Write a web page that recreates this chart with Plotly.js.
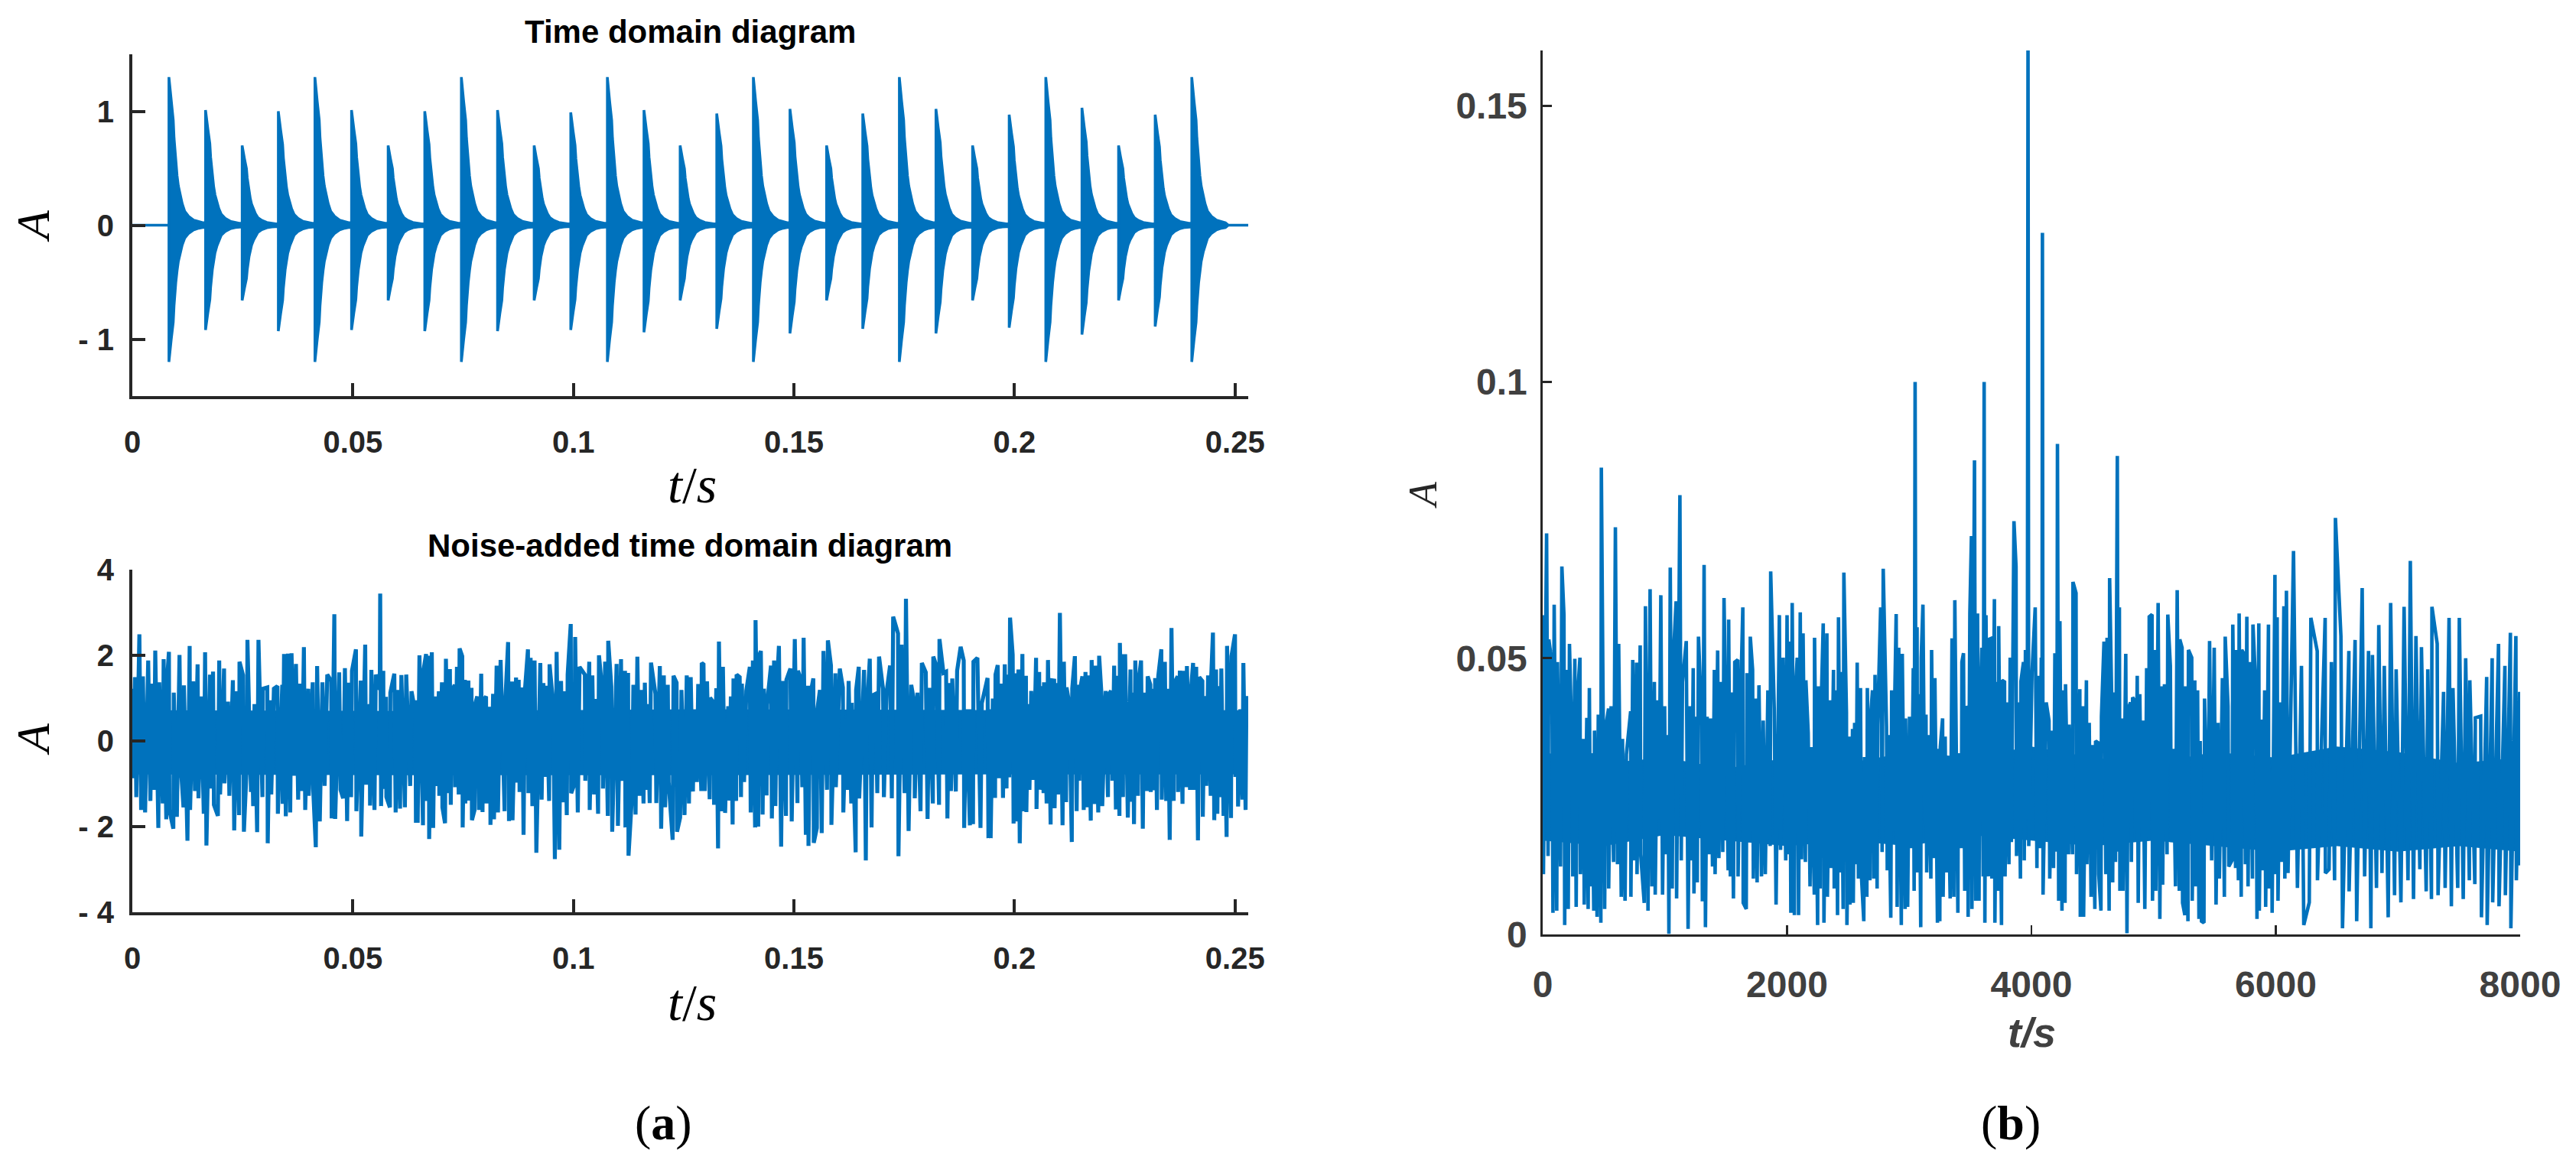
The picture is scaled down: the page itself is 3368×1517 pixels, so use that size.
<!DOCTYPE html>
<html><head><meta charset="utf-8">
<script src="https://cdn.plot.ly/plotly-3.0.1.min.js"></script>
<style>html,body{margin:0;padding:0;background:#fff;}#chart{width:3368px;height:1517px;}</style>
</head><body><div id="chart"></div>
<script>
// ---------------- DATA ----------------
// (a) top: periodic impulse bursts (time of each impulse, positive and negative peak)
const burstTimes = [0.0083,0.0166,0.0249,0.0331,0.0414,0.0497,0.0580,0.0663,0.0746,0.0828,0.0911,0.0994,0.1077,0.1160,0.1242,0.1325,0.1408,0.1491,0.1574,0.1656,0.1739,0.1822,0.1905,0.1988,0.2071,0.2153,0.2236,0.2319,0.2402];
const burstPosPeak = [1.30,1.01,0.70,1.00,1.30,1.01,0.70,1.00,1.30,1.01,0.70,0.99,1.30,1.01,0.70,0.98,1.30,1.02,0.70,0.98,1.30,1.02,0.70,0.97,1.30,1.03,0.70,0.97,1.30];
const burstNegPeak = [-1.20,-0.92,-0.66,-0.93,-1.20,-0.92,-0.66,-0.93,-1.20,-0.93,-0.66,-0.92,-1.20,-0.94,-0.66,-0.91,-1.20,-0.95,-0.66,-0.91,-1.20,-0.95,-0.66,-0.90,-1.20,-0.96,-0.66,-0.89,-1.20];
// envelope of one burst (time after impulse, fraction of the peak)
const decayOffset = [0,0.00052,0.00098,0.00116,0.00156,0.00185,0.00214,0.00260,0.00301,0.00358,0.00445,0.00561,0.00676,0.00763];
const decayRatio  = [1,0.837,0.709,0.590,0.419,0.333,0.265,0.196,0.145,0.094,0.060,0.034,0.022,0.017];
const signalSpan = [0, 0.2530];

// (a) bottom: noise-added signal, successive extremes [t, A]
const noisyExtremes = [
[0.0000,1.22],[0.0001,-0.87],[0.0006,1.49],[0.0009,-1.31],[0.0016,2.49],[0.0020,-1.61],[0.0024,1.51],[0.0029,-1.67],[0.0036,1.88],[0.0041,-1.40],
[0.0045,1.34],[0.0049,-1.14],[0.0052,2.11],[0.0059,-2.03],[0.0061,1.37],[0.0069,-1.46],[0.0071,1.91],[0.0077,-1.83],[0.0078,1.31],[0.0083,2.08],
[0.0084,-1.61],[0.0093,-2.05],[0.0094,1.13],[0.0101,-1.77],[0.0107,2.01],[0.0110,-0.60],[0.0116,-1.55],[0.0117,1.30],[0.0125,-2.33],[0.0130,2.22],
[0.0131,-1.61],[0.0138,1.39],[0.0142,-1.17],[0.0148,1.79],[0.0150,-1.34],[0.0156,1.04],[0.0162,-1.70],[0.0165,2.07],[0.0168,-2.44],[0.0176,1.55],
[0.0177,-1.11],[0.0183,1.62],[0.0185,-1.49],[0.0194,-1.75],[0.0197,1.88],[0.0199,-1.25],[0.0208,1.69],[0.0209,-0.99],[0.0217,0.92],[0.0220,-1.28],
[0.0228,1.42],[0.0231,-2.09],[0.0237,1.16],[0.0242,-1.73],[0.0243,1.85],[0.0251,1.54],[0.0253,-2.12],[0.0260,-0.45],[0.0261,2.36],[0.0269,-1.19],
[0.0270,0.68],[0.0274,-1.52],[0.0277,0.86],[0.0283,-2.13],[0.0286,2.36],[0.0295,-1.31],[0.0296,1.22],[0.0306,1.25],[0.0307,-2.39],[0.0312,0.95],
[0.0315,-1.25],[0.0321,1.22],[0.0329,1.28],[0.0330,-1.70],[0.0340,1.31],[0.0341,-1.47],[0.0344,2.03],[0.0348,-1.76],[0.0353,2.04],[0.0358,-1.67],
[0.0361,2.05],[0.0367,-0.81],[0.0371,1.80],[0.0376,-1.37],[0.0380,1.34],[0.0384,-1.17],[0.0389,2.19],[0.0392,-1.61],[0.0399,1.22],[0.0400,-1.28],
[0.0409,1.37],[0.0410,-1.11],[0.0416,-2.48],[0.0419,1.75],[0.0425,-1.88],[0.0431,1.37],[0.0436,-1.05],[0.0442,1.55],[0.0451,1.40],[0.0452,-1.81],
[0.0458,2.96],[0.0460,-1.82],[0.0469,1.60],[0.0472,-1.14],[0.0478,-1.34],[0.0482,1.70],[0.0487,-1.87],[0.0491,1.36],[0.0496,-1.31],[0.0498,1.64],
[0.0507,2.14],[0.0508,-1.64],[0.0518,1.41],[0.0519,-2.23],[0.0528,2.25],[0.0530,-1.02],[0.0538,0.86],[0.0539,-1.51],[0.0542,1.66],[0.0549,-1.61],
[0.0552,1.55],[0.0561,1.20],[0.0562,3.44],[0.0564,-1.52],[0.0569,1.64],[0.0570,-1.12],[0.0575,1.03],[0.0576,-1.31],[0.0584,-1.55],[0.0585,1.13],[0.0594,1.57],
[0.0597,-1.67],[0.0602,1.19],[0.0607,-1.58],[0.0610,1.54],[0.0618,-1.55],[0.0621,1.55],[0.0630,-1.05],[0.0633,1.16],[0.0642,0.65],[0.0643,-1.91],
[0.0644,0.95],[0.0647,-1.91],[0.0651,2.00],[0.0659,-1.97],[0.0660,1.64],[0.0666,2.03],[0.0668,-1.40],[0.0672,1.99],[0.0673,-2.29],[0.0679,2.07],
[0.0682,-2.03],[0.0686,1.04],[0.0688,-1.05],[0.0695,1.16],[0.0696,-1.28],[0.0702,1.37],[0.0703,-1.55],[0.0709,-1.92],[0.0711,1.92],[0.0716,-1.22],
[0.0720,1.68],[0.0722,-1.49],[0.0725,1.19],[0.0731,1.31],[0.0732,-1.08],[0.0736,1.73],[0.0740,-1.25],[0.0742,2.16],[0.0748,1.98],[0.0749,-2.02],
[0.0754,1.43],[0.0755,-1.46],[0.0762,1.41],[0.0763,-1.39],[0.0769,1.24],[0.0770,-1.85],[0.0776,-1.61],[0.0777,0.85],[0.0782,1.04],[0.0786,-1.61],
[0.0791,1.57],[0.0794,-1.66],[0.0796,0.95],[0.0802,1.04],[0.0803,-1.46],[0.0811,0.80],[0.0812,-1.96],[0.0818,1.10],[0.0820,-1.83],[0.0826,1.76],
[0.0829,-1.67],[0.0835,1.89],[0.0844,-1.64],[0.0845,0.79],[0.0852,2.31],[0.0854,-1.87],[0.0861,1.39],[0.0862,-1.85],[0.0870,1.48],[0.0871,-0.97],
[0.0876,1.43],[0.0878,-1.19],[0.0884,1.25],[0.0887,-2.19],[0.0890,1.17],[0.0897,2.14],[0.0898,-1.22],[0.0903,1.94],[0.0907,-1.52],[0.0912,1.88],
[0.0916,-2.61],[0.0925,1.82],[0.0928,-1.37],[0.0932,1.35],[0.0936,-0.84],[0.0939,1.29],[0.0945,-1.40],[0.0946,1.79],[0.0954,0.88],[0.0958,-2.76],
[0.0962,2.08],[0.0968,-2.54],[0.0972,1.40],[0.0977,-1.43],[0.0980,1.16],[0.0985,-1.73],[0.0987,1.55],[0.0994,2.73],[0.0995,-1.22],[0.1002,-1.02],
[0.1004,2.43],[0.1010,-1.67],[0.1014,1.73],[0.1026,1.55],[0.1027,-0.93],[0.1036,1.85],[0.1037,-1.61],[0.1043,1.53],[0.1047,-1.25],[0.1050,0.98],
[0.1056,-1.70],[0.1058,2.00],[0.1066,1.13],[0.1067,-1.11],[0.1072,1.85],[0.1078,-1.75],[0.1079,2.34],[0.1086,1.27],[0.1088,-2.12],[0.1098,1.80],
[0.1101,-1.98],[0.1108,1.91],[0.1110,-0.93],[0.1117,1.64],[0.1118,-2.02],[0.1124,1.59],[0.1125,-2.68],[0.1133,-1.25],[0.1136,1.31],[0.1141,-1.72],
[0.1145,1.97],[0.1150,-1.28],[0.1153,1.19],[0.1159,-1.46],[0.1162,1.36],[0.1167,-1.14],[0.1168,0.86],[0.1173,-1.45],[0.1176,1.83],[0.1186,1.10],
[0.1188,-1.45],[0.1196,1.75],[0.1199,-2.05],[0.1205,1.53],[0.1208,-1.55],[0.1214,1.31],[0.1216,-0.96],[0.1225,-2.31],[0.1227,1.52],[0.1234,1.36],
[0.1235,-2.12],[0.1242,-1.79],[0.1245,1.19],[0.1252,-1.73],[0.1257,1.53],[0.1262,-1.46],[0.1266,1.49],[0.1271,-1.18],[0.1274,0.70],[0.1280,-0.96],
[0.1283,1.33],[0.1290,-1.17],[0.1291,1.82],
[0.1295,1.79],[0.1298,-1.17],[0.1303,1.39],[0.1309,-1.36],[0.1310,1.01],[0.1317,0.91],[0.1319,-1.49],[0.1324,1.23],[0.1328,-2.51],[0.1330,2.32],
[0.1336,-1.64],[0.1339,1.73],[0.1344,-1.68],[0.1351,0.81],[0.1354,-1.39],[0.1357,1.04],[0.1361,-1.95],[0.1363,1.46],[0.1369,-1.40],[0.1370,1.55],
[0.1377,1.49],[0.1380,-1.31],[0.1382,1.34],[0.1387,-0.96],[0.1392,1.17],[0.1400,1.73],[0.1402,-1.67],[0.1407,1.88],[0.1412,-2.02],[0.1413,2.82],
[0.1419,-2.00],[0.1420,1.97],[0.1425,2.10],[0.1429,-1.72],[0.1432,1.22],[0.1438,-1.27],[0.1439,0.85],[0.1448,1.76],[0.1450,-1.81],[0.1455,1.88],
[0.1458,-1.52],[0.1461,1.22],[0.1466,2.22],[0.1471,-2.47],[0.1475,1.40],[0.1482,-1.75],[0.1483,1.43],[0.1492,1.69],[0.1495,-1.88],[0.1502,2.38],
[0.1508,-1.45],[0.1509,1.64],[0.1514,1.49],[0.1519,-1.08],[0.1522,2.41],[0.1527,-2.19],[0.1532,1.29],[0.1533,-2.45],[0.1537,1.07],[0.1544,1.46],
[0.1545,-2.38],[0.1552,-2.03],[0.1553,0.74],[0.1559,1.19],[0.1563,-2.15],[0.1567,2.10],[0.1575,-1.14],[0.1577,2.35],[0.1584,1.76],[0.1585,-1.96],
[0.1594,1.58],[0.1595,-1.08],[0.1604,1.69],[0.1611,1.25],[0.1612,-1.67],[0.1618,0.53],[0.1621,-1.14],[0.1624,1.40],[0.1630,-1.46],[0.1631,0.89],
[0.1640,-2.60],[0.1641,1.19],[0.1647,1.73],[0.1648,-1.34],[0.1659,1.66],[0.1663,-2.79],[0.1665,0.59],[0.1672,1.92],[0.1676,-2.02],[0.1679,1.07],
[0.1685,1.10],[0.1689,-1.22],[0.1693,1.97],[0.1702,1.22],[0.1704,-1.31],[0.1710,1.13],[0.1718,1.76],[0.1722,-1.34],[0.1725,2.90],[0.1736,2.51],
[0.1737,-2.69],[0.1744,2.25],[0.1751,-1.22],[0.1754,3.32],[0.1760,-2.10],[0.1766,1.31],[0.1773,0.89],[0.1774,-1.34],[0.1780,1.13],[0.1787,-1.64],
[0.1790,1.82],[0.1799,1.60],[0.1803,-1.82],[0.1807,1.24],[0.1815,-1.46],[0.1816,1.97],[0.1823,1.75],[0.1829,-1.49],[0.1830,2.38],[0.1839,1.59],
[0.1845,1.62],[0.1848,-1.81],[0.1852,1.35],[0.1856,-1.17],[0.1859,1.46],[0.1867,-1.18],[0.1870,1.64],[0.1878,2.20],[0.1885,1.88],[0.1886,-2.03],
[0.1891,0.74],[0.1899,-1.97],[0.1900,0.74],[0.1906,-1.94],[0.1907,1.85],[0.1916,1.94],[0.1923,-2.03],[0.1926,0.88],[0.1939,1.47],[0.1941,-2.27],
[0.1945,0.74],[0.1946,-2.27],[0.1951,0.99],[0.1956,-1.33],[0.1957,1.55],[0.1962,1.77],[0.1965,-0.87],[0.1971,1.34],[0.1974,-1.33],[0.1978,1.79],
[0.1982,-1.11],[0.1984,1.55],[0.1988,-0.85],[0.1990,2.88],[0.1996,2.01],[0.1998,-1.93],[0.2003,1.58],[0.2005,-1.88],[0.2009,1.67],[0.2012,-2.39],
[0.2018,2.03],[0.2020,-1.64],[0.2026,1.52],[0.2027,-1.66],[0.2031,0.86],[0.2034,-1.14],[0.2038,1.17],[0.2043,-0.91],[0.2049,1.94],[0.2050,-1.59],
[0.2056,1.61],[0.2057,-1.14],[0.2061,1.28],[0.2066,-1.22],[0.2067,1.37],[0.2073,-1.46],[0.2076,1.89],[0.2082,-1.95],[0.2083,1.42],[0.2090,1.41],
[0.2091,-1.57],[0.2096,1.35],[0.2099,-1.25],[0.2103,2.99],[0.2109,-1.97],[0.2112,1.85],[0.2117,-1.43],[0.2118,1.25],[0.2124,0.89],[0.2130,-2.36],
[0.2131,1.22],[0.2137,1.98],[0.2141,-1.64],[0.2144,1.31],[0.2147,-0.93],[0.2148,1.16],[0.2154,1.51],[0.2157,-1.61],[0.2161,1.61],[0.2164,-1.55],
[0.2167,1.53],[0.2173,-1.86],[0.2175,1.89],[0.2182,-1.47],[0.2183,1.76],[0.2190,-1.67],[0.2192,1.99],[0.2198,0.97],[0.2199,-1.52],[0.2207,1.17],
[0.2212,-1.31],[0.2213,1.07],[0.2219,1.17],[0.2222,-0.93],[0.2226,1.76],[0.2230,-1.60],[0.2232,1.52],[0.2238,-1.75],[0.2239,2.29],[0.2246,-1.31],
[0.2247,1.98],[0.2251,1.98],[0.2257,-1.79],[0.2263,1.67],[0.2264,-1.42],[0.2268,1.13],[0.2271,-1.94],[0.2274,1.88],[0.2280,-1.28],[0.2281,1.34],
[0.2287,1.88],[0.2291,-2.05],[0.2294,1.13],[0.2300,-1.17],[0.2302,1.51],[0.2308,1.32],[0.2309,-1.19],[0.2313,1.22],[0.2316,-1.15],[0.2319,1.47],
[0.2323,-1.61],[0.2326,1.51],[0.2333,2.14],[0.2334,-1.37],[0.2341,1.85],[0.2344,-1.40],[0.2348,1.22],[0.2352,-2.31],[0.2356,2.64],[0.2361,-1.40],
[0.2362,1.34],[0.2370,1.51],[0.2371,-1.19],[0.2375,1.64],[0.2381,-1.47],[0.2383,1.64],[0.2389,-1.08],[0.2391,1.75],[0.2398,-1.14],[0.2399,1.04],
[0.2405,1.82],[0.2407,-1.14],[0.2412,1.73],[0.2416,-2.32],[0.2419,1.49],[0.2426,1.40],[0.2427,-1.77],[0.2431,1.05],[0.2435,-1.05],[0.2439,1.53],
[0.2445,-1.28],[0.2446,1.49],[0.2450,2.53],[0.2453,-1.85],[0.2457,1.67],[0.2460,-1.70],[0.2463,1.28],[0.2466,-1.31],[0.2469,1.69],[0.2474,-1.75],
[0.2476,0.61],[0.2481,-2.24],[0.2482,2.22],[0.2491,-1.80],[0.2492,1.98],[0.2500,2.49],[0.2501,-0.84],[0.2506,0.65],[0.2507,-1.53],[0.2512,0.74],
[0.2517,-1.37],[0.2519,1.82],[0.2524,-1.61],[0.2526,1.05]
];
// dense core of the noisy trace (read band limits)
const noisyCoreT  = [0, 0.0644, 0.1295, 0.1945, 0.2526];
const noisyCoreHi = [0.72, 0.70, 0.74, 0.72, 0.72];
const noisyCoreLo = [-0.78, -0.80, -0.80, -0.78, -0.78];

// (b): successive extremes [t, A]
const panelBExtremes = [
[0,0.0578],[6,0.0109],[32,0.0726],[44,0.0142],[50,0.0534],[75,0.0493],[84,0.0039],[94,0.0597],[115,0.0043],[121,0.0493],
[146,0.0123],[157,0.0666],[174,0.0578],[180,0.0017],[190,0.0479],[209,0.0046],[219,0.0526],[240,0.0336],[246,0.0105],[263,0.0499],
[274,0.0050],[284,0.0427],[305,0.0501],[309,0.0109],[334,0.0354],[340,0.0054],[361,0.0392],[372,0.0046],[382,0.0446],[393,0.0087],
[403,0.0328],[418,0.0043],[424,0.0369],[445,0.0032],[455,0.0398],[476,0.0021],[480,0.0845],[501,0.0328],[507,0.0046],[518,0.0378],
[539,0.0409],[540,0.0083],[560,0.0413],[580,0.0131],[595,0.0737],[612,0.0127],[622,0.0526],[643,0.0068],[653,0.0354],[674,0.0061],
[685,0.0326],[720,0.0404],[722,0.0068],[737,0.0497],[747,0.0134],[768,0.0492],[772,0.0109],[798,0.0523],[802,0.0145],[831,0.0057],
[841,0.0594],[862,0.0043],[879,0.0625],[894,0.0087],[914,0.0457],[921,0.0072],[939,0.0424],[952,0.0208],[967,0.0614],[981,0.0072],
[998,0.0413],[1008,0.0145],[1025,0.0361],[1033,0.0001],[1044,0.0664],[1060,0.0083],[1071,0.0508],[1092,0.0603],[1096,0.0065],[1123,0.0795],
[1134,0.0134],[1144,0.0457],[1175,0.0531],[1190,0.0010],[1207,0.0413],[1217,0.0134],[1232,0.0482],[1238,0.0074],[1259,0.0394],[1265,0.0094],
[1275,0.0539],[1300,0.0394],[1307,0.0060],[1321,0.0669],[1332,0.0013],[1346,0.0394],[1363,0.0145],[1373,0.0391],[1390,0.0123],[1405,0.0479],
[1411,0.0109],[1432,0.0514],[1442,0.0138],[1461,0.0457],[1474,0.0149],[1484,0.0609],[1518,0.0116],[1522,0.0570],[1536,0.0105],[1545,0.0438],
[1561,0.0065],[1572,0.0493],[1597,0.0497],[1599,0.0105],[1618,0.0405],[1638,0.0592],[1641,0.0057],[1666,0.0046],[1672,0.0473],[1696,0.0187],
[1699,0.0539],[1718,0.0479],[1724,0.0101],[1743,0.0427],[1755,0.0094],[1770,0.0451],[1791,0.0105],[1805,0.0387],[1822,0.0109],[1843,0.0442],
[1862,0.0160],[1866,0.0657],[1895,0.0409],[1910,0.0054],[1937,0.0578],[1947,0.0153],[1968,0.0501],[1989,0.0134],[2000,0.0578],[2010,0.0145],
[2021,0.0530],[2031,0.0039],[2042,0.0600],[2060,0.0035],[2064,0.0420],[2083,0.0501],[2094,0.0035],[2108,0.0583],[2119,0.0136],[2131,0.0545],
[2150,0.0131],[2154,0.0460],[2173,0.0365],[2188,0.0087],[2198,0.0339],[2223,0.0072],[2225,0.0537],[2250,0.0017],[2257,0.0449],[2271,0.0083],
[2275,0.0376],[2296,0.0563],[2302,0.0021],[2326,0.0545],[2330,0.0068],[2353,0.0424],[2357,0.0120],[2380,0.0479],[2386,0.0083],[2403,0.0442],
[2413,0.0035],[2421,0.0574],[2438,0.0112],[2442,0.0475],[2459,0.0046],[2465,0.0655],[2486,0.0402],[2490,0.0017],[2511,0.0358],[2515,0.0054],
[2536,0.0372],[2542,0.0057],[2553,0.0383],[2563,0.0127],[2574,0.0492],[2584,0.0101],[2601,0.0446],[2609,0.0105],[2628,0.0024],[2634,0.0321],
[2653,0.0068],[2657,0.0446],[2678,0.0098],[2682,0.0387],[2699,0.0442],[2709,0.0101],[2720,0.0470],[2737,0.0083],[2741,0.0380],[2766,0.0592],
[2778,0.0149],[2787,0.0662],[2814,0.0376],[2820,0.0116],[2828,0.0361],[2849,0.0030],[2856,0.0442],[2874,0.0186],[2878,0.0383],[2893,0.0580],
[2901,0.0050],[2914,0.0519],[2935,0.0017],[2943,0.0508],[2966,0.0046],[2970,0.0391],[2987,0.0050],[3002,0.0394],[3016,0.0156],[3033,0.0482],
[3040,0.0079],[3048,0.1000],[3056,0.0112],[3064,0.0556],[3068,0.0112],[3079,0.0435],[3094,0.0013],[3098,0.0501],[3112,0.0597],[3127,0.0197],
[3137,0.0398],[3143,0.0112],[3158,0.0361],[3177,0.0101],[3183,0.0515],[3200,0.0138],[3210,0.0464],[3231,0.0021],[3237,0.0336],[3250,0.0024],
[3254,0.0339],[3273,0.0391],[3277,0.0068],[3294,0.0358],[3304,0.0112],[3315,0.0321],[3335,0.0065],[3350,0.0536],[3365,0.0068],[3373,0.0605],
[3398,0.0039],[3402,0.0328],[3427,0.0156],[3431,0.0493],[3444,0.0509],[3454,0.0079],[3467,0.0413],[3477,0.0409],[3482,0.0032],[3496,0.0581],
[3509,0.0721],[3513,0.0046],[3534,0.0858],[3544,0.0061],[3559,0.0581],[3571,0.0061],[3576,0.0354],[3594,0.0519],[3605,0.0105],[3613,0.1000],
[3619,0.0021],[3628,0.0578],[3647,0.0105],[3651,0.0534],[3672,0.0536],[3676,0.0101],[3697,0.0607],[3701,0.0021],[3718,0.0457],[3726,0.0079],
[3732,0.0558],[3755,0.0017],[3759,0.0460],[3780,0.0457],[3784,0.0105],[3805,0.0420],[3816,0.0127],[3826,0.0501],[3836,0.0167],[3857,0.0748],
[3874,0.0666],[3878,0.0142],[3893,0.0420],[3910,0.0101],[3914,0.0458],[3935,0.0493],[3941,0.0134],[3951,0.0515],[3966,0.0208],[3972,0.1600],
[3978,0.0160],[4005,0.0475],[4031,0.0592],[4045,0.0120],[4051,0.0468],[4066,0.0156],[4081,0.0501],[4086,0.0175],[4090,0.1270],[4095,0.0072],
[4121,0.0420],[4144,0.0387],[4150,0.0101],[4171,0.0369],[4181,0.0120],[4192,0.0509],[4208,0.0150],[4213,0.0888],[4223,0.0061],[4233,0.0567],
[4250,0.0043],[4254,0.0442],[4275,0.0057],[4279,0.0453],[4304,0.0145],[4308,0.0380],[4336,0.0145],[4340,0.0638],[4365,0.0618],[4369,0.0109],
[4396,0.0444],[4400,0.0032],[4425,0.0413],[4427,0.0032],[4450,0.0460],[4454,0.0127],[4473,0.0383],[4488,0.0068],[4500,0.0343],[4519,0.0046],
[4525,0.0350],[4546,0.0347],[4551,0.0109],[4569,0.0043],[4573,0.0394],[4594,0.0530],[4609,0.0109],[4619,0.0537],[4636,0.0043],[4640,0.0645],
[4657,0.0427],[4665,0.0094],[4672,0.0438],[4688,0.0131],[4703,0.0866],[4710,0.0150],[4720,0.0592],[4724,0.0079],[4745,0.0391],[4749,0.0079],
[4772,0.0508],[4782,0.0002],[4793,0.0409],[4811,0.0420],[4818,0.0131],[4828,0.0429],[4845,0.0424],[4853,0.0189],[4866,0.0468],[4874,0.0057],
[4887,0.0435],[4901,0.0193],[4912,0.0387],[4928,0.0046],[4943,0.0482],[4960,0.0175],[4964,0.0575],[4987,0.0579],[4991,0.0061],[5014,0.0515],
[5018,0.0079],[5037,0.0600],[5051,0.0028],[5064,0.0449],[5074,0.0090],[5089,0.0453],[5110,0.0145],[5116,0.0579],[5137,0.0486],[5145,0.0167],
[5162,0.0336],[5179,0.0087],[5193,0.0623],[5210,0.0079],[5214,0.0534],[5233,0.0519],[5237,0.0057],[5256,0.0035],[5262,0.0449],[5281,0.0024],
[5285,0.0515],[5312,0.0501],[5316,0.0061],[5337,0.0460],[5341,0.0087],[5360,0.0442],[5371,0.0028],[5381,0.0350],[5392,0.0024],[5412,0.0021],
[5417,0.0427],[5444,0.0164],[5458,0.0531],[5475,0.0134],[5496,0.0519],[5511,0.0054],[5527,0.0383],[5538,0.0101],[5563,0.0464],[5579,0.0068],
[5586,0.0539],[5609,0.0413],[5615,0.0123],[5642,0.0134],[5648,0.0561],[5671,0.0120],[5675,0.0515],[5694,0.0098],[5700,0.0581],[5717,0.0068],
[5721,0.0515],[5740,0.0508],[5751,0.0127],[5763,0.0575],[5773,0.0087],[5788,0.0493],[5809,0.0101],[5813,0.0561],[5838,0.0438],[5846,0.0028],
[5861,0.0563],[5865,0.0043],[5882,0.0389],[5892,0.0116],[5909,0.0442],[5917,0.0050],[5940,0.0561],[5942,0.0083],[5965,0.0296],[5970,0.0039],
[5993,0.0651],[5997,0.0109],[6011,0.0574],[6018,0.0061],[6039,0.0420],[6045,0.0131],[6066,0.0594],[6074,0.0101],[6087,0.0622],[6100,0.0111],
[6145,0.0694],[6177,0.0084],[6210,0.0486],[6229,0.0017],[6274,0.0058],[6287,0.0573],[6339,0.0513],[6341,0.0098],[6404,0.0573],[6406,0.0111],
[6436,0.0118],[6455,0.0493],[6481,0.0098],[6488,0.0754],[6533,0.0540],[6546,0.0011],[6598,0.0513],[6600,0.0078],[6649,0.0533],[6662,0.0024],
[6707,0.0627],[6727,0.0105],[6759,0.0513],[6778,0.0011],[6791,0.0506],[6824,0.0084],[6843,0.0560],[6869,0.0111],[6888,0.0486],[6920,0.0031],
[6940,0.0600],[6972,0.0071],[6985,0.0480],[7024,0.0058],[7050,0.0593],[7082,0.0098],[7101,0.0676],[7127,0.0064],[7147,0.0540],[7179,0.0118],
[7192,0.0520],[7231,0.0078],[7244,0.0480],[7274,0.0064],[7278,0.0593],[7321,0.0526],[7328,0.0071],[7373,0.0439],[7386,0.0084],[7418,0.0573],
[7437,0.0051],[7450,0.0446],[7489,0.0084],[7502,0.0573],[7534,0.0064],[7554,0.0500],[7584,0.0098],[7588,0.0460],[7629,0.0091],[7633,0.0392],
[7677,0.0395],[7683,0.0031],[7726,0.0466],[7730,0.0017],[7771,0.0500],[7775,0.0058],[7823,0.0526],[7827,0.0051],[7875,0.0486],[7879,0.0071],
[7920,0.0546],[7924,0.0011],[7965,0.0540],[7969,0.0098],[7996,0.0439],[8000,0.0125]
];
// dense core of panel (b) (read band limits)
const panelBCoreT  = [0, 500, 1000, 1500, 2000, 2500, 3000, 3500, 4000, 4500, 5000, 5500, 6000, 6500, 7000, 7500, 8000];
const panelBCoreHi = [0.033, 0.031, 0.032, 0.030, 0.032, 0.031, 0.033, 0.032, 0.034, 0.032, 0.031, 0.033, 0.032, 0.034, 0.033, 0.031, 0.032];
const panelBCoreLo = [0.017, 0.016, 0.018, 0.017, 0.016, 0.017, 0.016, 0.018, 0.017, 0.016, 0.017, 0.016, 0.015, 0.016, 0.015, 0.016, 0.015];

// tick labels
const xTicksA = [0, 0.05, 0.1, 0.15, 0.2, 0.25];
const xTickTextA = ['0', '0.05', '0.1', '0.15', '0.2', '0.25'];
const yTicksTop = [-1, 0, 1];
const yTickTextTop = ['- 1', '0', '1'];
const yTicksNoisy = [-4, -2, 0, 2, 4];
const yTickTextNoisy = ['- 4', '- 2', '0', '2', '4'];
const xTicksB = [0, 2000, 4000, 6000, 8000];
const yTicksB = [0, 0.05, 0.1, 0.15];
const yTickTextB = ['0', '0.05', '0.1', '0.15'];

// ---------------- BUILD ----------------
const BLUE = '#0072BD';
function burstPolygon() {
  const ux = [signalSpan[0]], uy = [0], lx = [signalSpan[0]], ly = [0];
  const m = decayOffset.length, n = burstTimes.length;
  for (let k = 0; k < n; k++) {
    const t0 = burstTimes[k];
    ux.push(t0); uy.push(k ? burstPosPeak[k-1] * decayRatio[m-1] : 0);
    lx.push(t0); ly.push(k ? burstNegPeak[k-1] * decayRatio[m-1] : 0);
    for (let i = 0; i < m; i++) {
      ux.push(t0 + decayOffset[i]); uy.push(burstPosPeak[k] * decayRatio[i]);
      lx.push(t0 + decayOffset[i]); ly.push(burstNegPeak[k] * decayRatio[i]);
    }
  }
  const tEnd = burstTimes[n-1] + (burstTimes[n-1] - burstTimes[n-2]);
  ux.push(tEnd, signalSpan[1]); uy.push(0, 0);
  lx.push(tEnd, signalSpan[1]); ly.push(0, 0);
  return { x: ux.concat(lx.slice().reverse()), y: uy.concat(ly.slice().reverse()) };
}
function band(t, hi, lo) {
  return { x: t.concat(t.slice().reverse()), y: hi.concat(lo.slice().reverse()) };
}
const clean = burstPolygon();
const nCore = band(noisyCoreT, noisyCoreHi, noisyCoreLo);
const bCore = band(panelBCoreT, panelBCoreHi, panelBCoreLo);

const traces = [
  { type: 'scatter', mode: 'lines', x: clean.x, y: clean.y, fill: 'toself', fillcolor: BLUE,
    line: { color: BLUE, width: 3.5 }, xaxis: 'x', yaxis: 'y', hoverinfo: 'skip' },
  { type: 'scatter', mode: 'lines', x: nCore.x, y: nCore.y, fill: 'toself', fillcolor: BLUE,
    line: { color: BLUE, width: 0 }, xaxis: 'x2', yaxis: 'y2', hoverinfo: 'skip' },
  { type: 'scatter', mode: 'lines', x: noisyExtremes.map(p => p[0]), y: noisyExtremes.map(p => p[1]),
    line: { color: BLUE, width: 5.2 }, xaxis: 'x2', yaxis: 'y2', hoverinfo: 'skip' },
  { type: 'scatter', mode: 'lines', x: bCore.x, y: bCore.y, fill: 'toself', fillcolor: BLUE,
    line: { color: BLUE, width: 0 }, xaxis: 'x3', yaxis: 'y3', hoverinfo: 'skip' },
  { type: 'scatter', mode: 'lines', x: panelBExtremes.map(p => p[0]), y: panelBExtremes.map(p => p[1]),
    line: { color: BLUE, width: 4.6 }, xaxis: 'x3', yaxis: 'y3', hoverinfo: 'skip' }
];

const W = 3368, H = 1517;
const px = v => v / W, py = v => 1 - v / H;
const AX = '#262626';
const leftTickFont = { family: 'Liberation Sans, Arial, sans-serif', size: 40, color: AX, weight: 'bold' };
const rightTickFont = { family: 'Liberation Sans, Arial, sans-serif', size: 48, color: '#404040', weight: 'bold' };
function leftAxis(extra) {
  return Object.assign({ showline: true, linecolor: AX, linewidth: 4, ticks: 'inside', ticklen: 17,
    tickwidth: 4, tickcolor: AX, showgrid: false, zeroline: false, tickfont: leftTickFont,
    mirror: false, fixedrange: true, tickmode: 'array' }, extra);
}
function rightAxis(extra) {
  return Object.assign({ showline: true, linecolor: AX, linewidth: 2.6, ticks: 'inside', ticklen: 12,
    tickwidth: 2.6, tickcolor: AX, showgrid: false, zeroline: false, tickfont: rightTickFont,
    mirror: false, fixedrange: true, tickmode: 'array' }, extra);
}
const xDomA = [px(173), px(1632)];
const layout = {
  width: W, height: H, margin: { l: 0, r: 0, t: 0, b: 0 }, showlegend: false,
  paper_bgcolor: '#fff', plot_bgcolor: '#fff', hovermode: false,
  xaxis: leftAxis({ domain: xDomA, anchor: 'y', range: [0, signalSpan[1]], tickvals: xTicksA, ticktext: xTickTextA, ticklabelstandoff: 22 }),
  yaxis: leftAxis({ domain: [py(518), py(71)], anchor: 'x', range: [-1.5, 1.5], tickvals: yTicksTop, ticktext: yTickTextTop, ticklabelstandoff: 12 }),
  xaxis2: leftAxis({ domain: xDomA, anchor: 'y2', range: [0, signalSpan[1]], tickvals: xTicksA, ticktext: xTickTextA, ticklabelstandoff: 22 }),
  yaxis2: leftAxis({ domain: [py(1193), py(745)], anchor: 'x2', range: [-4, 4], tickvals: yTicksNoisy, ticktext: yTickTextNoisy, ticklabelstandoff: 12 }),
  xaxis3: rightAxis({ domain: [px(2017), px(3295)], anchor: 'y3', range: [0, 8000], tickvals: xTicksB, ticktext: xTicksB.map(String), ticklabelstandoff: 22 }),
  yaxis3: rightAxis({ domain: [py(1222), py(66)], anchor: 'x3', range: [0, 0.16], tickvals: yTicksB, ticktext: yTickTextB, ticklabelstandoff: 8 }),
  annotations: [
    { text: 'Time domain diagram', x: px(902), y: py(42), xref: 'paper', yref: 'paper', showarrow: false,
      xanchor: 'center', yanchor: 'middle', font: { family: 'Liberation Sans, Arial, sans-serif', size: 42, color: '#000', weight: 'bold' } },
    { text: 'Noise-added time domain diagram', x: px(902), y: py(714), xref: 'paper', yref: 'paper', showarrow: false,
      xanchor: 'center', yanchor: 'middle', font: { family: 'Liberation Sans, Arial, sans-serif', size: 42, color: '#000', weight: 'bold' } },
    { text: 'A', x: px(43), y: py(296), xref: 'paper', yref: 'paper', showarrow: false, textangle: -90,
      xanchor: 'center', yanchor: 'middle', font: { family: 'Liberation Serif, serif', size: 62, color: '#000', style: 'italic' } },
    { text: 'A', x: px(43), y: py(967), xref: 'paper', yref: 'paper', showarrow: false, textangle: -90,
      xanchor: 'center', yanchor: 'middle', font: { family: 'Liberation Serif, serif', size: 62, color: '#000', style: 'italic' } },
    { text: '<i>t</i>/<i>s</i>', x: px(905), y: py(634), xref: 'paper', yref: 'paper', showarrow: false,
      xanchor: 'center', yanchor: 'middle', font: { family: 'Liberation Serif, serif', size: 68, color: '#000' } },
    { text: '<i>t</i>/<i>s</i>', x: px(905), y: py(1311), xref: 'paper', yref: 'paper', showarrow: false,
      xanchor: 'center', yanchor: 'middle', font: { family: 'Liberation Serif, serif', size: 68, color: '#000' } },
    { text: '(<b>a</b>)', x: px(867), y: py(1468), xref: 'paper', yref: 'paper', showarrow: false,
      xanchor: 'center', yanchor: 'middle', font: { family: 'Liberation Serif, serif', size: 64, color: '#000' } },
    { text: 'A', x: px(1861), y: py(648), xref: 'paper', yref: 'paper', showarrow: false, textangle: -90,
      xanchor: 'center', yanchor: 'middle', font: { family: 'Liberation Serif, serif', size: 52, color: '#262626', style: 'italic' } },
    { text: '<b><i>t/s</i></b>', x: px(2656), y: py(1350), xref: 'paper', yref: 'paper', showarrow: false,
      xanchor: 'center', yanchor: 'middle', font: { family: 'Liberation Sans, Arial, sans-serif', size: 54, color: '#404040' } },
    { text: '(<b>b</b>)', x: px(2629), y: py(1468), xref: 'paper', yref: 'paper', showarrow: false,
      xanchor: 'center', yanchor: 'middle', font: { family: 'Liberation Serif, serif', size: 64, color: '#000' } }
  ]
};
Plotly.newPlot('chart', traces, layout, { staticPlot: true, displayModeBar: false });
</script>
</body></html>
